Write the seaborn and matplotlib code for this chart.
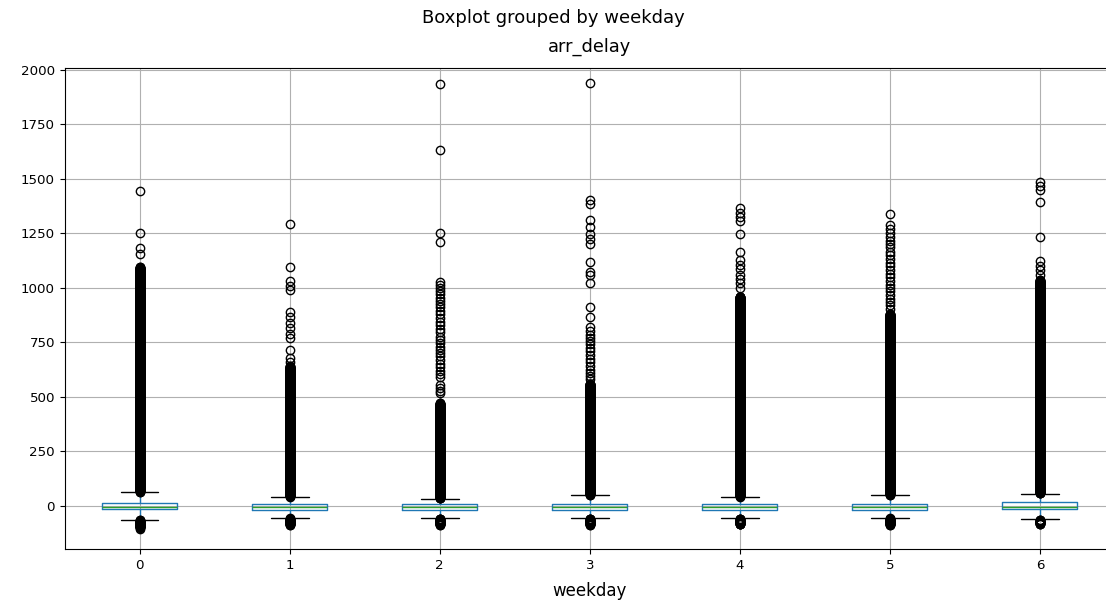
import numpy as np
import seaborn as sns
import matplotlib
matplotlib.use("Agg")
import matplotlib.pyplot as plt

# weekday groups
weekdays = [0, 1, 2, 3, 4, 5, 6]

# box statistics (minutes)
q1 = [-15, -21, -21, -21, -18, -21, -15]
medians = [-5, -8, -8, -8, -6, -8, -5]
q3 = [14, 7, 7, 7, 7, 7, 15]
whisker_low = [-64, -55, -58, -58, -58, -56, -63]
whisker_high = [62, 40, 32, 48, 40, 48, 55]

# ranges where outliers are packed at every whole minute (solid black columns)
dense_high = [(64, 1095), (42, 640), (34, 471), (50, 560), (42, 960), (50, 880), (57, 1035)]
dense_low = [(-100, -66), (-88, -58), (-88, -60), (-88, -60), (-86, -60), (-88, -58), (-84, -65)]

# single outliers that can be told apart
sparse_0 = [1443, 1253, 1182, 1156, -105]
sparse_1 = [1291, 1095, 1031, 1010, 990, 890, 865, 840, 815, 790, 770, 714, 680, 660]
sparse_2 = [1937, 1632, 1251, 1210, 1027, 1015, 1000, 985, 970, 955, 940, 925, 910,
            895, 880, 860, 845, 830, 810, 795, 775, 760, 745, 730, 715, 700, 685, 670,
            650, 635, 620, 605, 592, 554, 540, 525, 517]
sparse_3 = [1942, 1405, 1385, 1309, 1278, 1248, 1225, 1199, 1118, 1072, 1060, 1022,
            912, 864, 821, 800, 785, 770, 755, 740, 725, 710, 690, 675, 660, 640, 625,
            610, 595, 580]
sparse_4 = [1365, 1345, 1325, 1305, 1248, 1164, 1126, 1105, 1085, 1060, 1040, 1020, 1000]
sparse_5 = [1340, 1286, 1270, 1250, 1232, 1215, 1200, 1185, 1165, 1150, 1130, 1115,
            1100, 1080, 1065, 1050, 1030, 1015, 1000, 985, 965, 950, 935, 920, 905]
sparse_6 = [1485, 1465, 1450, 1395, 1235, 1125, 1100, 1080, 1060]
sparse = [sparse_0, sparse_1, sparse_2, sparse_3, sparse_4, sparse_5, sparse_6]

sns.set_style("whitegrid", {
    "axes.edgecolor": "black",
    "grid.color": "#b0b0b0",
    "xtick.bottom": True,
    "ytick.left": True,
    "xtick.color": "black",
    "ytick.color": "black",
    "text.color": "black",
    "axes.labelcolor": "black",
})
plt.rcParams["font.family"] = ["DejaVu Sans"]

stats = []
for i, day in enumerate(weekdays):
    fliers = np.concatenate([
        np.arange(dense_low[i][0], dense_low[i][1] + 1),
        np.arange(dense_high[i][0], dense_high[i][1] + 1),
        np.array(sparse[i], dtype=float),
    ])
    stats.append({
        "label": str(day),
        "q1": q1[i], "med": medians[i], "q3": q3[i],
        "whislo": whisker_low[i], "whishi": whisker_high[i],
        "fliers": fliers,
    })

fig = plt.figure(figsize=(11.06, 6.07), dpi=100)
ax = fig.add_axes([64.7 / 1106, (607 - 549.3) / 607, (1115 - 64.7) / 1106, (549.3 - 67.5) / 607])

ax.bxp(
    stats, positions=weekdays, widths=0.5,
    boxprops=dict(color="#1f77b4", linewidth=1.0),
    whiskerprops=dict(color="#1f77b4", linewidth=1.0),
    capprops=dict(color="black", linewidth=1.0),
    medianprops=dict(color="#2ca02c", linewidth=1.0),
    flierprops=dict(marker="o", markerfacecolor="none", markeredgecolor="black",
                    markersize=6, markeredgewidth=1.0),
)

ax.set_xlim(-0.5, 6.5)
ax.set_ylim(-200, 2011)
ax.grid(True, color="#b0b0b0", linewidth=0.8)
ax.tick_params(axis="both", length=3.5, width=0.8, labelsize=9.6)
for s in ax.spines.values():
    s.set_color("black")
    s.set_linewidth(0.8)

ax.set_xlabel("weekday", fontsize=12, labelpad=7)
ax.set_title("arr_delay", fontsize=12.8, pad=11)
fig.suptitle("Boxplot grouped by weekday", fontsize=13, y=1 - 18 / 607, va="center")

fig.savefig("out.png", dpi=100)
